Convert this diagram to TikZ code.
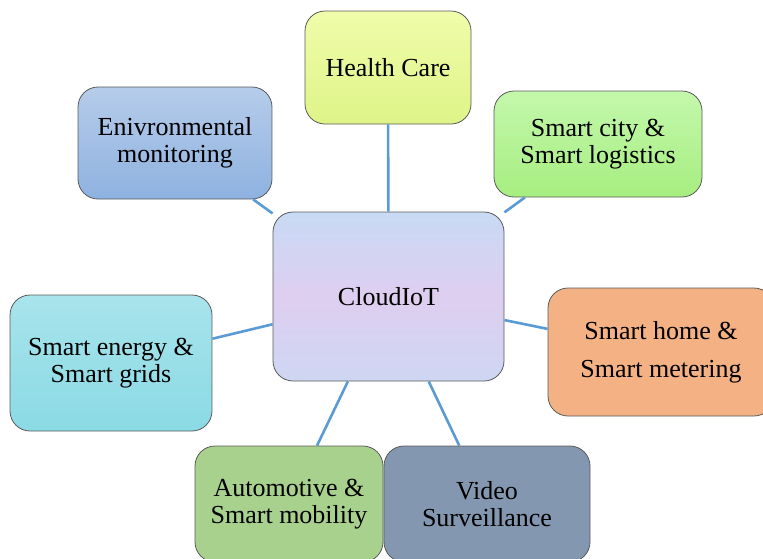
\documentclass[tikz,border=0pt]{standalone}
\usepackage{fontspec}
\setmainfont{Liberation Serif}
\usetikzlibrary{positioning, calc}
\definecolor{linkblue}{HTML}{5B9BD5}
\definecolor{boxline}{HTML}{5A5A5A}
\tikzset{app/.style={draw=boxline, line width=0.8pt, rounded corners=20pt, align=center, inner sep=0pt, font=\fontsize{26}{27}\selectfont}}
\tikzset{link/.style={draw=linkblue, line width=2.6pt}}

\begin{document}
\begin{tikzpicture}[x=1pt, y=-1pt]
      \useasboundingbox (0,0) rectangle (763,558);

      \node[app, minimum width=231pt, minimum height=169pt,
            top color={rgb,255:red,200;green,218;blue,244}, bottom color={rgb,255:red,206;green,214;blue,242},
            middle color={rgb,255:red,222;green,206;blue,240}] (cloud) at (388.5,296.5) {CloudIoT};

      \node[app, minimum width=166pt, minimum height=113pt,
            top color={rgb,255:red,240;green,252;blue,170}, bottom color={rgb,255:red,222;green,244;blue,136}] (care) at (388,67.5) {Health Care}
      edge[link] (cloud);

      \node[app, minimum width=194pt, minimum height=112pt,
            top color={rgb,255:red,182;green,204;blue,234}, bottom color={rgb,255:red,142;green,178;blue,224}] (env) at (175,143) {Enivronmental\\monitoring}
      edge[link] (cloud);

      \node[app, minimum width=208pt, minimum height=106pt,
            top color={rgb,255:red,196;green,248;blue,172}, bottom color={rgb,255:red,166;green,238;blue,128}] (city) at (598,144) {Smart city \&\\Smart logistics}
      edge[link] (cloud);

      \node[app, minimum width=226pt, minimum height=128pt, fill={rgb,255:red,244;green,177;blue,131},
            font=\fontsize{26}{38}\selectfont] (home) at (661,352) {Smart home \&\\Smart metering}
      edge[link] (cloud);

      \node[app, minimum width=202pt, minimum height=136pt,
            top color={rgb,255:red,168;green,228;blue,236}, bottom color={rgb,255:red,138;green,218;blue,228}] (energy) at (111,363) {Smart energy \&\\Smart grids}
      edge[link] (cloud);

      \node[app, minimum width=188pt, minimum height=116pt, fill={rgb,255:red,169;green,209;blue,142}] (auto) at (289,504) {Automotive \&\\Smart mobility}
      edge[link] (cloud);

      \node[app, minimum width=206pt, minimum height=116pt, fill={rgb,255:red,132;green,151;blue,176}] (video) at (487,504) {Video\\Surveillance}
      edge[link] (cloud);
\end{tikzpicture}
\end{document}
